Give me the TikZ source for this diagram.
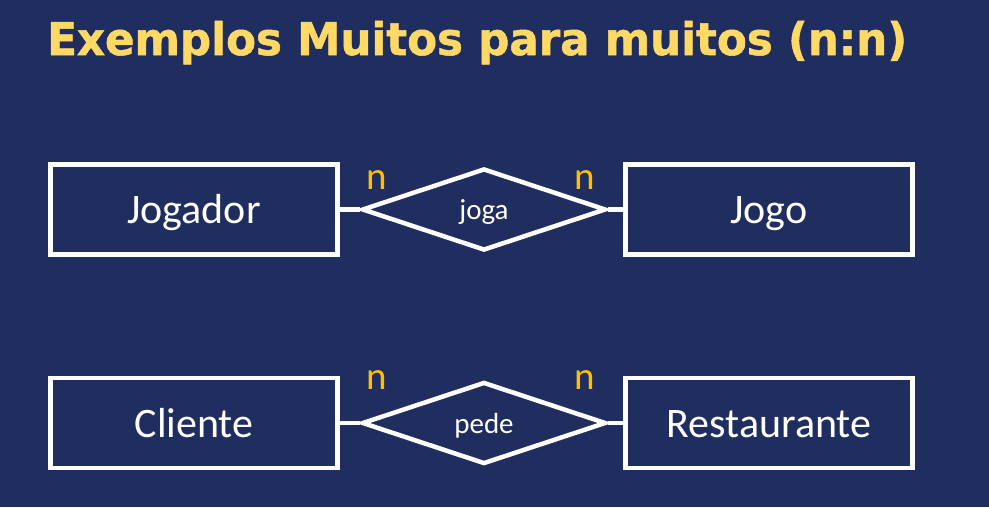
\documentclass[tikz,border=0pt]{standalone}
\usepackage{fontspec}
\usepackage{graphicx}
\setmainfont{Carlito}
\newfontfamily\titlefont[BoldFeatures={FakeBold=1.2}]{DejaVu Sans}
\usetikzlibrary{shapes.geometric}
\definecolor{bgblue}{RGB}{32,45,95}
\definecolor{titleyellow}{RGB}{255,217,102}
\definecolor{cardgold}{RGB}{255,192,0}
\begin{document}
\begin{tikzpicture}[x=1pt,y=-1pt,
  entity/.style={draw=white, line width=4.5pt, minimum width=287pt, minimum height=90pt, inner sep=0pt, text=white, text height=28pt, text depth=0pt, font=\fontsize{42}{50}\selectfont},
  rel/.style={diamond, draw=white, line width=4.5pt, minimum width=244pt, minimum height=82pt, inner sep=0pt, text=white, text height=20pt, text depth=0pt, font=\fontsize{29}{34}\selectfont},
  card/.style={text=cardgold, font=\fontsize{39}{44}\selectfont, inner sep=0pt},
  link/.style={draw=white, line width=4.5pt},
  titlestyle/.style={anchor=base west, inner sep=0pt, text=titleyellow}]
\useasboundingbox (0,0) rectangle (989,507);
\fill[bgblue] (0,0) rectangle (989,507);
% title
\node[titlestyle] (title) at (47,55) {\resizebox{860pt}{\height}{\titlefont\bfseries\fontsize{45}{50}\selectfont Exemplos Muitos para muitos (n:n)}};
% row 1
\node[entity] (jogador) at (194,209.5) {Jogador};
\node[entity] (jogo) at (769,209.5) {Jogo};
\node[rel] (joga) at (484,209.5) {joga};
\draw[link] (jogador.east) -- (joga.west);
\draw[link] (joga.east) -- (jogo.west);
\node[card] (n1) at (377,180.5) {n};
\node[card] (n2) at (585,180.5) {n};
% row 2
\node[entity] (cliente) at (194,423) {Cliente};
\node[entity] (restaurante) at (769,423) {Restaurante};
\node[rel] (pede) at (484,423) {pede};
\draw[link] (cliente.east) -- (pede.west);
\draw[link] (pede.east) -- (restaurante.west);
\node[card] (n3) at (377,380.5) {n};
\node[card] (n4) at (585,380.5) {n};
\end{tikzpicture}
\end{document}
